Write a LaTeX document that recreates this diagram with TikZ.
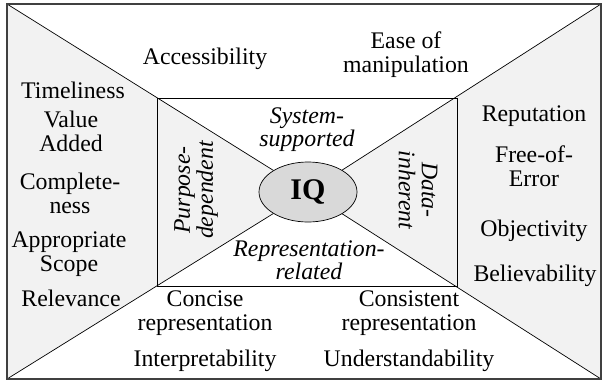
\documentclass[tikz,border=0pt]{standalone}
\usepackage{fontspec}
\setmainfont{Liberation Serif}
\usetikzlibrary{shapes.geometric}
\definecolor{lightfill}{HTML}{F2F2F2}
\definecolor{iqfill}{HTML}{D9D9D9}
\tikzset{
  lbl/.style={align=center, inner sep=0pt, anchor=base, font=\fontsize{23.8}{23.5}\selectfont},
  ilbl/.style={lbl, font=\fontsize{23.8}{22.5}\selectfont\itshape},
  rlbl/.style={align=center, inner sep=0pt, anchor=center, font=\fontsize{23.8}{23}\selectfont\itshape},
  thin line/.style={draw=black, line width=0.7pt},
}
\begin{document}
\begin{tikzpicture}[x=1pt,y=-1pt]
\useasboundingbox (0,0) rectangle (603,381);
\coordinate (tl) at (7,4);
\coordinate (tr) at (601,4);
\coordinate (br) at (601,379);
\coordinate (bl) at (7,379);
\coordinate (c) at (308,192);
\coordinate (itl) at (157,98);
\coordinate (ibr) at (457,286);
% gray side regions
\fill[lightfill] (tl) -- (c) -- (bl) -- cycle;
\fill[lightfill] (tr) -- (c) -- (br) -- cycle;
% inner rectangle
\draw[thin line] (itl) rectangle (ibr);
% central node
\node[ellipse, draw=black, line width=0.7pt, fill=iqfill, minimum width=98pt, minimum height=60pt, inner sep=0pt,
      font=\fontsize{30}{30}\selectfont\bfseries] (iq) at (c) {IQ};
% diagonals
\draw[thin line] (tl) -- (iq);
\draw[thin line] (tr) -- (iq);
\draw[thin line] (bl) -- (iq);
\draw[thin line] (br) -- (iq);
% outer frame
\draw[draw=black!75, line width=1.3pt] (tl) rectangle (br);
% outer labels (anchor = baseline of last line)
\node[lbl] (acc) at (205,64) {Accessibility};
\node[lbl] (ease) at (406,72) {Ease of\\manipulation};
\node[lbl] (time) at (73,98) {Timeliness};
\node[lbl] (val) at (71,151) {Value\\Added};
\node[lbl] (comp) at (70,213) {Complete-\\ness};
\node[lbl] (appr) at (69,271) {Appropriate\\Scope};
\node[lbl] (rel) at (71,306) {Relevance};
\node[lbl] (rep) at (534,121) {Reputation};
\node[lbl] (free) at (534,186) {Free-of-\\Error};
\node[lbl] (obj) at (534,236) {Objectivity};
\node[lbl] (bel) at (535,281) {Believability};
\node[lbl] (conc) at (205,330) {Concise\\representation};
\node[lbl] (interp) at (205,366) {Interpretability};
\node[lbl] (cons) at (409,330) {Consistent\\representation};
\node[lbl] (under) at (409,366) {Understandability};
% inner labels
\node[ilbl] (sys) at (307,146) {System-\\supported};
\node[ilbl] (repr) at (309,279) {Representation-\\related};
\node[rlbl, rotate=90] (purp) at (196,190) {Purpose-\\dependent};
\node[rlbl, rotate=-90] (data) at (418,190) {Data-\\inherent};
\end{tikzpicture}
\end{document}
